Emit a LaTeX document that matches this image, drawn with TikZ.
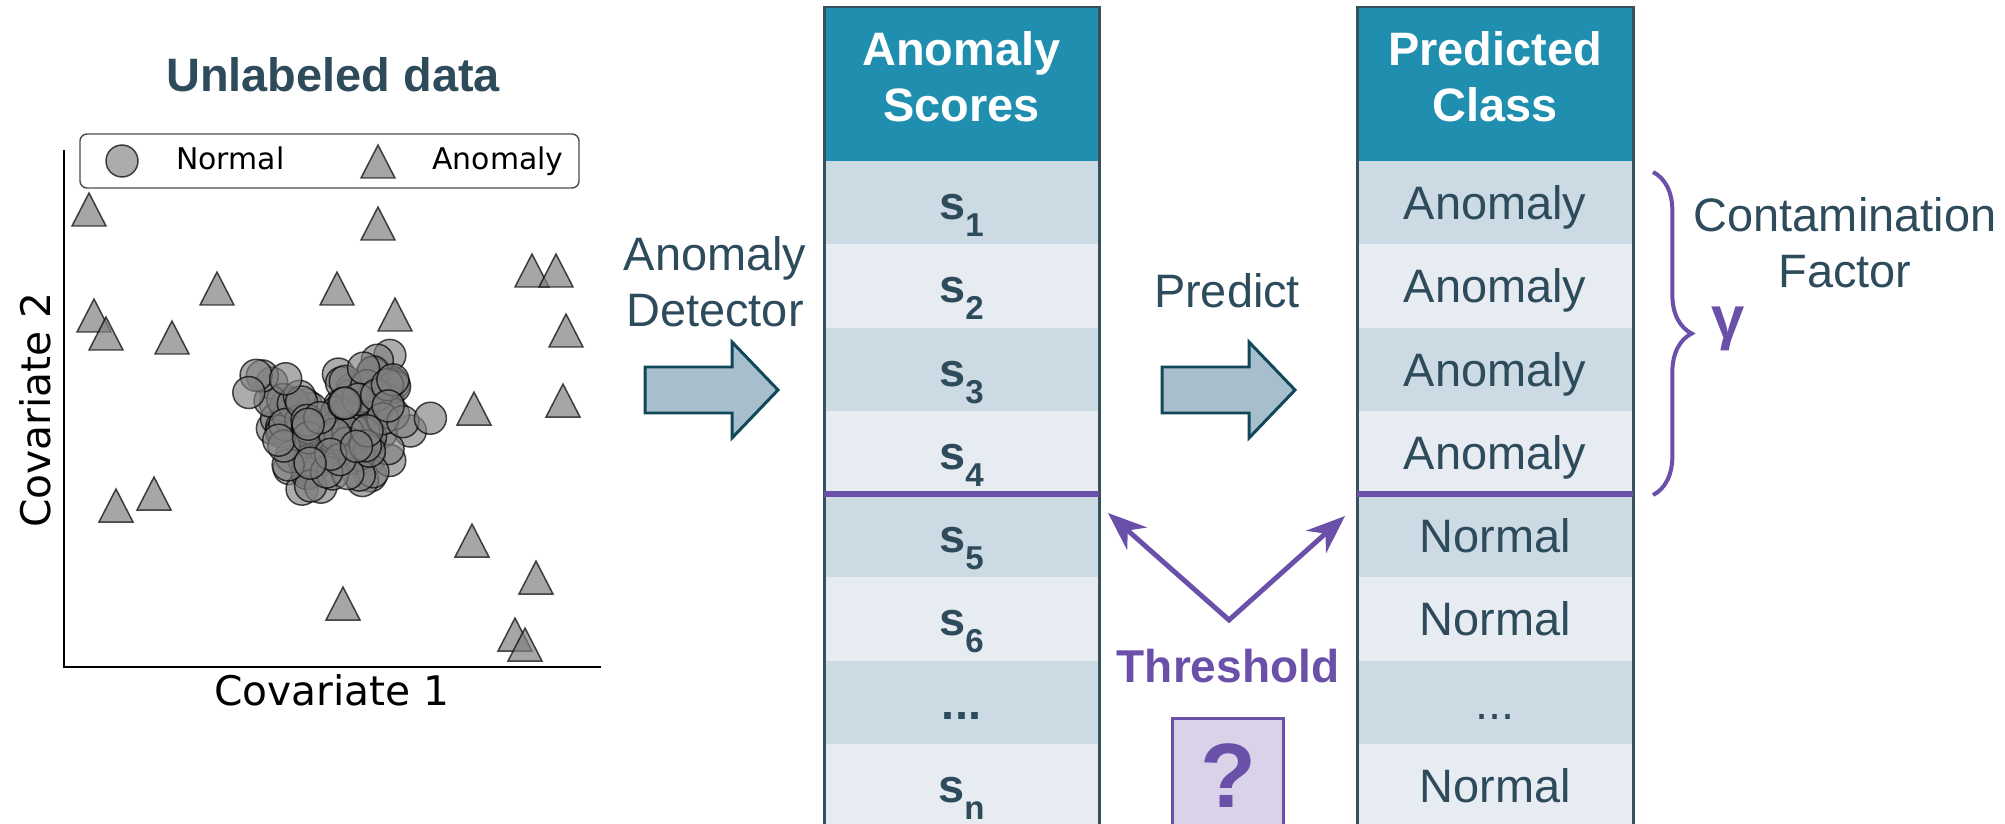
\documentclass[tikz,border=0pt]{standalone}
\usepackage{fontspec}
\setmainfont{Liberation Sans}
\newfontfamily\plotfont{DejaVu Sans}
\usetikzlibrary{arrows.meta, decorations.pathreplacing}
\definecolor{slatetxt}{RGB}{46,75,92}
\definecolor{headteal}{RGB}{31,142,175}
\definecolor{rowdark}{RGB}{203,218,227}
\definecolor{rowlight}{RGB}{231,236,243}
\definecolor{tabframe}{RGB}{55,80,94}
\definecolor{blockfill}{RGB}{167,191,204}
\definecolor{blockline}{RGB}{16,72,90}
\definecolor{thrviolet}{RGB}{106,80,168}
\definecolor{qlilac}{RGB}{217,210,233}
\definecolor{markgray}{RGB}{128,128,128}

\newcommand{\bodyfont}{\fontsize{26.7}{31.9}\selectfont}
\newcommand{\sco}[1]{{\bfseries s\raisebox{-9.6pt}{\fontsize{18.8}{18.8}\selectfont #1}}}
\newcommand{\etcrow}{...}

\tikzset{
  celltxt/.style={anchor=base, inner sep=0pt, text=slatetxt, font=\bodyfont},
  headtxt/.style={align=center, inner sep=0pt, text=white, font=\bodyfont\bfseries},
  inlier/.style={fill=markgray, fill opacity=0.65, draw=black, draw opacity=0.7, line width=0.85pt},
  outlier/.style={fill=markgray, fill opacity=0.7, draw=black, draw opacity=0.7, line width=0.85pt, line join=miter},
  plotlab/.style={inner sep=0pt, font=\plotfont\fontsize{23.2}{27}\selectfont},
  blockarrow/.style={fill=blockfill, draw=blockline, line width=1.7pt, line join=miter},
  thrline/.style={draw=thrviolet, line width=3.1pt},
}

\begin{document}
\begin{tikzpicture}[x=0.2mm, y=-0.2mm]
			\useasboundingbox (0,0) rectangle (2005,824);
			\clip (0,0) rectangle (2005,824);
			\def\rh{83.25}
			\def\hb{161}

			% Scatter plot of the unlabeled data
			\node[font=\bodyfont\bfseries, text=slatetxt, anchor=base, inner sep=0pt] (title) at (333,92) {Unlabeled data};
			\draw[black, line width=0.85pt] (64,150) -- (64,667) -- (601,667);
			\node[plotlab, anchor=base] (xlab) at (332,705) {Covariate 1};
			\node[plotlab, anchor=base, rotate=90] (ylab) at (50,410) {Covariate 2};

			\pgfmathsetseed{4217}
			\foreach \k in {1,...,140} {
				\pgfmathsetmacro{\px}{338+36*(rand+rand+rand)}
				\pgfmathsetmacro{\py}{424+32*(rand+rand+rand)}
				\draw[inlier] (\px,\py) circle[radius=16];
			}
			\foreach \tx/\ty in {89/193, 378/207, 217/272, 337/272, 532/254, 556/254, 94/299, 106/317,
				172/321, 395/298, 566/314, 474/392, 563/384, 116/489, 154/477, 472/524, 536/561,
				343/587, 515/618, 525/628}
				\draw[outlier] (\tx,\ty) -- ++(17,33) -- ++(-34,0) -- cycle;

			% Legend
			\draw[black!70, line width=0.8pt, rounded corners=4pt, fill=white] (80,134) rectangle (579,188);
			\draw[inlier] (122,161) circle[radius=16];
			\draw[outlier] (378,145) -- ++(17,33) -- ++(-34,0) -- cycle;
			\node[plotlab, font=\plotfont\fontsize{17}{20}\selectfont, anchor=base west] (legnorm) at (176,170) {Normal};
			\node[plotlab, font=\plotfont\fontsize{17}{20}\selectfont, anchor=base west] (leganom) at (432,170) {Anomaly};

			% Two columns: scores and predicted class
			\foreach \cl/\cr in {824/1099, 1357/1633} {
				\fill[headteal] (\cl,7) rectangle (\cr,\hb);
				\foreach \i/\rc in {0/rowdark, 1/rowlight, 2/rowdark, 3/rowlight, 4/rowdark, 5/rowlight, 6/rowdark, 7/rowlight}
					\fill[\rc] (\cl,\hb+\i*\rh) rectangle (\cr,\hb+\i*\rh+\rh);
				\draw[tabframe, line width=1.7pt] (\cl,830) -- (\cl,7) -- (\cr,7) -- (\cr,830);
			}
			\node[headtxt] (schead) at (961.5,77) {Anomaly\\Scores};
			\node[headtxt] (pchead) at (1495,77) {Predicted\\Class};
			\foreach \i/\t in {1/\sco{1}, 2/\sco{2}, 3/\sco{3}, 4/\sco{4}, 5/\sco{5}, 6/\sco{6}, 7/{\bfseries\etcrow}, 8/\sco{n}}
				\node[celltxt] (sc\i) at (961.5,{136.4+\i*\rh}) {\t};
			\foreach \i/\t in {1/Anomaly, 2/Anomaly, 3/Anomaly, 4/Anomaly, 5/Normal, 6/Normal, 7/\etcrow, 8/Normal}
				\node[celltxt] (pc\i) at (1495,{136.4+\i*\rh}) {\t};
			\draw[thrline] (824,494.2) -- (1099,494.2);
			\draw[thrline] (1357,494.2) -- (1633,494.2);

			% Block arrows
			\draw[blockarrow] (645,367) -- (732,367) -- (732,342) -- (778,390) -- (732,438) -- (732,413) -- (645,413) -- cycle;
			\draw[blockarrow] (1162,367) -- (1249,367) -- (1249,342) -- (1295,390) -- (1249,438) -- (1249,413) -- (1162,413) -- cycle;
			\node[font=\bodyfont, text=slatetxt, align=center, inner sep=0pt] (detlab) at (715,282) {Anomaly\\Detector};
			\node[font=\bodyfont, text=slatetxt, anchor=base, inner sep=0pt] (predlab) at (1227,307) {Predict};

			% Threshold
			\coordinate (vtx) at (1229,620);
			\coordinate (tipL) at (1108,513);
			\coordinate (tipR) at (1345,516);
			\draw[thrviolet, line width=2.8pt, line join=miter,
				{Stealth[length=22pt, width=17pt, inset=7pt]}-{Stealth[length=22pt, width=17pt, inset=7pt]}]
				(tipL) -- (vtx) -- (tipR);
			\node[font=\fontsize{26.2}{30}\selectfont\bfseries, text=thrviolet, anchor=base, inner sep=0pt] (thrlab) at (1228,682) {Threshold};
			\fill[qlilac] (1172,718) rectangle (1283,830);
			\draw[thrviolet, line width=1.7pt] (1172,830) -- (1172,718) -- (1283,718) -- (1283,830);
			\node[font=\fontsize{52}{52}\selectfont\bfseries, text=thrviolet, anchor=base, inner sep=0pt] (qmark) at (1228,807) {?};

			% Contamination factor
			\draw[thrviolet, line width=2.3pt, decorate, decoration={brace, amplitude=22pt}] (1653,172) -- (1653,495);
			\node[font=\bodyfont, text=slatetxt, align=center, inner sep=0pt] (contam) at (1845,242.5) {Contamination\\Factor};
			\node[font=\fontsize{34}{34}\selectfont\bfseries, text=thrviolet, anchor=base, inner sep=0pt] (gam) at (1728,338) {γ};

		\end{tikzpicture}
\end{document}
